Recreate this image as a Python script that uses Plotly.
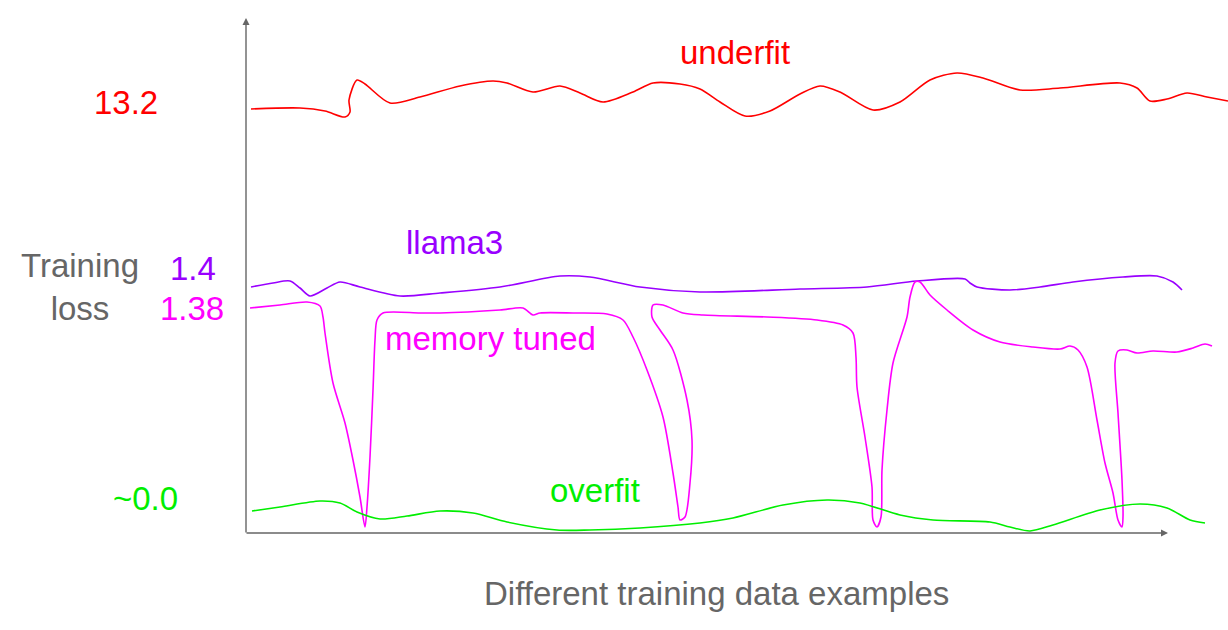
import plotly.graph_objects as go

# Coordinates: x = position along "different training data examples",
# y = visual training-loss height above the x axis.
underfit_x = [5, 54, 79, 99, 104, 103, 111, 119, 144, 174, 214, 247, 261, 287, 314, 334, 357, 387, 407, 434,
              454, 474, 499, 524, 554, 574, 594, 627, 654, 684, 711, 737, 774, 814, 874, 891, 904, 921, 941, 961, 982]
underfit_y = [424, 425, 422, 416, 421, 433, 453, 449, 430, 436, 447, 452, 450, 441, 447, 440, 431, 441, 450, 449,
              444, 431, 417, 422, 439, 447, 441, 423, 431, 453, 460, 455, 443, 445, 450, 445, 432, 434, 440, 436, 432]

llama3_x = [5, 27, 44, 54, 64, 81, 94, 114, 154, 194, 254, 314, 344, 394, 454, 554, 621, 671, 719, 724, 731,
            764, 794, 827, 877, 911, 927, 936]
llama3_y = [246, 250, 252, 245, 237, 245, 251, 246, 237, 240, 246, 257, 256, 246, 241, 244, 246, 252, 254, 250, 246,
            243, 246, 251, 256, 257, 251, 243]

memory_x = [4, 34, 61, 74, 77, 79, 87, 99, 107, 114, 119, 121, 124, 127, 129, 131, 137, 174, 194, 254, 277, 287,
            294, 327, 361, 377, 387, 401, 417, 427, 432, 434, 439, 444, 446, 441, 427, 414, 406, 407, 417, 437,
            457, 521, 571, 597, 607, 610, 611, 619, 626, 627, 631, 635, 636, 641, 647, 661, 664, 669, 674, 684,
            701, 727, 754, 787, 814, 824, 832, 841, 851, 859, 867, 872, 876, 877, 876, 872, 869, 872, 881, 891,
            907, 931, 947, 959, 966]
memory_y = [225, 228, 231, 227, 216, 200, 150, 110, 73, 36, 6, 26, 76, 143, 193, 213, 220, 220, 220, 223, 225, 218,
            220, 220, 219, 213, 196, 163, 116, 60, 26, 13, 16, 50, 93, 133, 183, 203, 216, 228, 228, 220,
            218, 216, 213, 208, 200, 176, 146, 96, 46, 13, 6, 16, 63, 123, 170, 216, 236, 251, 251, 238,
            223, 203, 191, 186, 184, 187, 183, 166, 113, 70, 40, 13, 6, 16, 53, 120, 170, 182, 183, 180,
            182, 181, 185, 189, 187]

overfit_x = [6, 34, 74, 94, 111, 134, 161, 194, 227, 261, 311, 344, 394, 454, 487, 537, 581, 614, 654, 687, 744,
             764, 784, 807, 854, 894, 921, 944, 959]
overfit_y = [22, 26, 32, 30, 21, 14, 17, 22, 20, 11, 3, 3, 5, 10, 15, 28, 33, 30, 18, 13, 11,
             6, 2, 8, 23, 29, 25, 13, 10]

loss_labels = ["13.2", "1.4", "1.38", "~0.0"]
series_names = ["underfit", "llama3", "memory tuned", "overfit"]

RED, PURPLE, MAGENTA, GREEN, GRAY = "#ff0000", "#9900ff", "#ff00ff", "#00ee00", "#666666"
FONT = "Arial, Liberation Sans, sans-serif"

fig = go.Figure()
for xs, ys, c in [(underfit_x, underfit_y, RED), (llama3_x, llama3_y, PURPLE),
                  (memory_x, memory_y, MAGENTA), (overfit_x, overfit_y, GREEN)]:
    fig.add_trace(go.Scatter(x=xs, y=ys, mode="lines",
                             line=dict(color=c, width=1.6, shape="spline", smoothing=0.8),
                             hoverinfo="skip", showlegend=False))

ann = []
# axes with arrowheads
ann.append(dict(x=0, y=515, ax=0, ay=-1, xref="x", yref="y", axref="x", ayref="y", text="",
                showarrow=True, arrowhead=2, arrowsize=1, arrowwidth=1.4, arrowcolor=GRAY))
ann.append(dict(x=922, y=0, ax=-1, ay=0, xref="x", yref="y", axref="x", ayref="y", text="",
                showarrow=True, arrowhead=2, arrowsize=1, arrowwidth=1.4, arrowcolor=GRAY))

def txt(x, y, s, c, size=33):
    ann.append(dict(x=x, y=y, xref="x", yref="y", text=s, showarrow=False,
                    font=dict(family=FONT, size=size, color=c), xanchor="center", yanchor="middle"))

txt(-120, 431, loss_labels[0], RED)
txt(-53, 265, loss_labels[1], PURPLE)
txt(-54, 225, loss_labels[2], MAGENTA)
txt(-101, 35, loss_labels[3], GREEN)
txt(-166, 246, "Training<br>loss", GRAY)
txt(489, 481, series_names[0], RED)
txt(208, 291, series_names[1], PURPLE)
txt(244, 195, series_names[2], MAGENTA)
txt(349, 43, series_names[3], GREEN)
txt(470, -60, "Different training data examples", GRAY)

fig.update_layout(
    width=1228, height=630, margin=dict(l=0, r=0, t=0, b=0),
    paper_bgcolor="white", plot_bgcolor="white",
    xaxis=dict(range=[-246, 982], visible=False, fixedrange=True),
    yaxis=dict(range=[-97, 533], visible=False, fixedrange=True),
    annotations=ann,
)
fig.write_html("out.html", config={"displayModeBar": False},
               post_script="document.body.style.margin='0';document.body.style.overflow='hidden';")
